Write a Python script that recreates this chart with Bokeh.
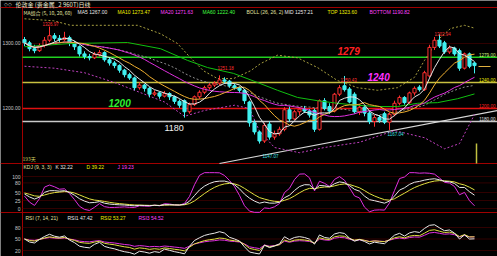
import numpy as np
from bokeh.plotting import figure
from bokeh.models import Range1d
from bokeh.embed import file_html
from bokeh.resources import INLINE
from bokeh.core.properties import value

# ---------------- data ----------------
opens = [1306,1301,1292,1289,1297,1305,1312,1308,1306,1309,
         1301,1295,1284,1280,1278,1283,1286,1275,1270,1266,
         1259,1252,1247,1232,1236,1231,1222,1224,1219,1223,
         1218,1211,1212,1195,1206,1218,1225,1232,1236,1239,
         1244,1242,1235,1232,1228,1210,1178,1164,1150,1176,
         1156,1161,1168,1198,1184,1195,1199,1196,1197,1168,
         1212,1203,1196,1222,1235,1230,1222,1195,1202,1193,
         1180,1186,1192,1179,1191,1208,1217,1209,1224,1233,
         1229,1250,1294,1305,1301,1287,1293,1289,1262,1284,1270]
highs = [1310,1304,1298,1300,1310,1326,1316,1313,1318,1312,
         1304,1297,1288,1284,1287,1290,1288,1279,1273,1268,
         1261,1255,1249,1240,1238,1233,1228,1226,1227,1225,
         1220,1214,1214,1209,1220,1228,1235,1239,1242,1251,
         1248,1244,1238,1234,1230,1212,1182,1166,1178,1180,
         1166,1172,1202,1203,1198,1202,1204,1199,1200,1214,
         1216,1208,1224,1236,1250,1233,1225,1207,1205,1196,
         1190,1190,1195,1194,1212,1220,1219,1226,1234,1236,
         1258,1298,1310,1314,1304,1297,1295,1292,1286,1286,1272]
lows = [1296,1288,1285,1287,1294,1302,1303,1302,1304,1296,
        1290,1280,1276,1274,1276,1280,1272,1266,1262,1255,
        1248,1244,1228,1229,1226,1217,1219,1215,1217,1213,
        1207,1201,1186,1192,1204,1215,1222,1229,1233,1236,
        1238,1232,1229,1224,1207,1172,1160,1146,1147,1152,
        1152,1158,1165,1180,1182,1190,1193,1186,1164,1166,
        1197,1192,1194,1219,1226,1208,1192,1190,1188,1176,
        1172,1178,1176,1167,1188,1205,1206,1207,1220,1226,
        1227,1248,1290,1293,1284,1284,1281,1258,1260,1262,1254]
closes = [1301,1292,1289,1297,1305,1312,1308,1306,1309,1301,
          1295,1284,1280,1278,1283,1286,1275,1270,1266,1259,
          1252,1247,1232,1236,1231,1222,1224,1219,1223,1218,
          1211,1205,1195,1206,1218,1225,1232,1236,1239,1244,
          1242,1235,1232,1228,1212,1178,1164,1150,1174,1156,
          1161,1168,1198,1184,1195,1199,1196,1190,1168,1212,
          1200,1196,1222,1232,1229,1210,1195,1202,1193,1180,
          1186,1182,1179,1191,1208,1217,1209,1224,1231,1229,
          1255,1294,1305,1296,1287,1293,1284,1262,1284,1265,1266]

# MA60 and Bollinger bands (candle index, price)
ma60_idx = [0, 9.2, 20.6, 27.2, 32.6, 36.6, 41.8, 46.6, 50.6, 54.6, 58.6, 62.6, 66.6, 70.6, 74.6, 78.6, 82.6, 86.6, 90]
ma60_val = [1295, 1300, 1301.5, 1292, 1274, 1263, 1254, 1240, 1228, 1217, 1212, 1208, 1205, 1203, 1203, 1208, 1209, 1215, 1222.4]
top_idx = [0, 5.8, 9.2, 14.6, 22.6, 27.2, 30.6, 33.2, 35.8, 38.6, 41.8, 45.2, 47.2, 50.6, 54.6, 58.6, 62.6, 66.6, 70.6, 74.6, 78, 80, 82.6, 85.2, 88, 90]
top_val = [1338, 1335, 1328, 1328, 1328, 1315, 1300, 1278, 1258, 1246, 1246, 1258, 1269, 1282, 1278, 1263, 1243, 1232, 1228, 1232, 1248, 1274, 1305, 1323, 1328, 1323.6]
bot_idx = [0, 6, 12, 18, 24, 28, 32, 36, 42, 45, 47, 50, 55, 60, 67, 74, 80, 84, 87, 90]
bot_val = [1265, 1262, 1255, 1240, 1222, 1210, 1188, 1197, 1205, 1200, 1165, 1140, 1132, 1140, 1148, 1166, 1155, 1138, 1146, 1190.8]

levels = [1279, 1240, 1200, 1180]
level_names = ["1279", "1240", "1200", "1180"]
level_right = ["1279.00", "1240.00", "1200.00", "1180.00"]
trend_idx = [39, 94.6]
trend_val = [1115.4, 1196.9]

price_ticks = [1300, 1200]
kd_ticks = [100, 80, 50, 25, 0]
rsi_ticks = [80, 50, 20]

# ---------------- derived indicators ----------------
N = len(closes)
idx = np.arange(N)
o = np.array(opens, float); h = np.array(highs, float)
l = np.array(lows, float); c = np.array(closes, float)

def ma(a, n):
    return np.array([a[max(0, i - n + 1):i + 1].mean() for i in range(len(a))])

ma5, ma10, ma20, mid = ma(c, 5), ma(c, 10), ma(c, 20), ma(c, 26)

K = []; D = []; J = []
kp, dp = 50.0, 50.0
for i in range(N):
    lo = l[max(0, i - 8):i + 1].min(); hi = h[max(0, i - 8):i + 1].max()
    rsv = (c[i] - lo) / (hi - lo) * 100 if hi > lo else 50
    kp = (2 * kp + rsv) / 3; dp = (2 * dp + kp) / 3
    K.append(kp); D.append(dp); J.append(3 * kp - 2 * dp)
J = np.clip(J, -12, 112)

def rsi(n):
    su, sa = 4.0, 8.0
    out = [50.0]
    for i in range(1, N):
        d = c[i] - c[i - 1]
        su = (max(d, 0) + (n - 1) * su) / n
        sa = (abs(d) + (n - 1) * sa) / n
        out.append(su / sa * 100 if sa > 0 else 50)
    return np.array(out)

r1, r2, r3 = rsi(7), rsi(14), rsi(21)

# ---------------- figure ----------------
p = figure(width=497, height=256, min_border=0, toolbar_location=None, output_backend="svg",
           x_range=Range1d(-4.8, 94.6), y_range=Range1d(972.3, 1366.15),
           x_axis_type=None, y_axis_type=None, background_fill_color="black",
           border_fill_color="black", outline_line_color=None)
p.grid.visible = False
p.extra_y_ranges = {"kd": Range1d(-150, 650), "rsi": Range1d(4.35, 672.2), "py": Range1d(256, 0)}
p.extra_x_ranges = {"px": Range1d(0, 497)}

FONT = "Liberation Sans"

def txt(x, y, s, color, size="5px", align="left", baseline="middle", style="normal",
        font=FONT, xr="px", yr="py"):
    p.text(x=[x], y=[y], text=[s], text_color=color, text_font=value(font),
           text_font_size=size, text_align=align, text_baseline=baseline,
           text_font_style=style, x_range_name=xr, y_range_name=yr)

# panel frame lines
p.segment(x0=[0, 0, 0], y0=[7, 163, 212], x1=[497, 497, 497], y1=[7, 163, 212],
          line_color="#a00000", line_width=1, x_range_name="px", y_range_name="py")
p.segment(x0=[22], y0=[7], x1=[22], y1=[256], line_color="#a00000", line_width=1,
          x_range_name="px", y_range_name="py")

# grid lines
p.segment(x0=[22] * len(price_ticks), x1=[497] * len(price_ticks), y0=price_ticks, y1=price_ticks,
          line_color="#600000", line_dash="1 1", x_range_name="px")
p.segment(x0=[22] * len(kd_ticks), x1=[497] * len(kd_ticks), y0=kd_ticks, y1=kd_ticks,
          line_color="#600000", line_dash="1 1", x_range_name="px", y_range_name="kd")
p.segment(x0=[22] * len(rsi_ticks), x1=[497] * len(rsi_ticks), y0=rsi_ticks, y1=rsi_ticks,
          line_color="#600000", line_dash="1 1", x_range_name="px", y_range_name="rsi")

# horizontal drawn levels
level_colors = ["#20d020", "#c8c040", "#e01010", "#c8c8c8"]
p.segment(x0=[22] * 4, x1=[497] * 4, y0=levels, y1=levels, line_color=level_colors,
          line_width=1.5, x_range_name="px")
# trend line
p.line(trend_idx, trend_val, line_color="#d8d8d8", line_width=1.2)

# bollinger bands
p.line(top_idx, top_val, line_color="#a8a040", line_dash="2 2", line_width=1)
p.line(bot_idx, bot_val, line_color="#c040c0", line_dash="2 2", line_width=1)
p.line(idx, mid, line_color="#909090", line_dash="2 2", line_width=1)

# candles
up = c >= o
col = np.where(up, "#ff3030", "#40f0f0")
p.segment(x0=idx, y0=l, x1=idx, y1=h, line_color=col, line_width=1)
p.vbar(x=idx, width=0.62, top=np.maximum(o, c), bottom=np.minimum(o, c),
       fill_color=np.where(up, "black", "#40f0f0"), line_color=col, line_width=1)

# moving averages
p.line(ma60_idx, ma60_val, line_color="#10c010", line_width=1)
p.line(idx, ma20, line_color="#e030e0", line_width=1)
p.line(idx, ma10, line_color="#f0b030", line_width=1)
p.line(idx, ma5, line_color="#e8e8e8", line_width=1)

# KD panel
p.line(idx, J, line_color="#e030e0", line_width=1, y_range_name="kd")
p.line(idx, D, line_color="#e0e040", line_width=1, y_range_name="kd")
p.line(idx, K, line_color="#e8e8e8", line_width=1, y_range_name="kd")
# RSI panel
p.line(idx, r3, line_color="#e030e0", line_width=1, y_range_name="rsi")
p.line(idx, r2, line_color="#e0e040", line_width=1, y_range_name="rsi")
p.line(idx, r1, line_color="#e8e8e8", line_width=1, y_range_name="rsi")

# cursor marks
p.segment(x0=[476], y0=[143], x1=[476], y1=[163], line_color="#c0c040", line_width=1.5,
          x_range_name="px", y_range_name="py")
p.segment(x0=[478], y0=[66], x1=[490], y1=[66], line_color="#e0b040", line_width=1,
          x_range_name="px", y_range_name="py")

# ---------------- texts ----------------
txt(3, 3.5, "◇◇", "#c0c0c0", size="5px")
txt(15, 3.5, "伦敦金 (贵金属_2 960T)日线", "#e8e8d0", size="6px", font="Noto Sans CJK SC")

row2 = [(23, "MA组合 (5, 10, 20, 60)", "#e0e0a0"), (77, "MA5 1267.00", "#e8e8e8"),
        (117, "MA10 1273.47", "#f0f000"), (160, "MA20 1271.63", "#ff40ff"),
        (202, "MA60 1222.40", "#40ff40"), (246, "BOLL (26, 26, 2)", "#e0e0a0"),
        (284, "MID 1257.21", "#e8e8e8"), (327, "TOP 1323.60", "#f0f000"),
        (369, "BOTTOM 1190.82", "#ff40ff")]
for x, s, colr in row2:
    txt(x, 11.5, s, colr, font="Noto Sans CJK SC" if "组" in s else FONT)

txt(22, 158, "193天", "#d0d060", font="Noto Sans CJK SC")
for x, s, colr in [(23, "KDJ (9, 3, 3)", "#e0e0a0"), (55, "K  32.22", "#e8e8e8"),
                   (86, "D  39.22", "#f0f000"), (117, "J  19.23", "#ff40ff")]:
    txt(x, 166.5, s, colr)
for x, s, colr in [(25, "RSI (7, 14, 21)", "#e0e0a0"), (67, "RSI1  47.42", "#e8e8e8"),
                   (100, "RSI2  53.27", "#f0f000"), (138, "RSI3  54.52", "#ff40ff")]:
    txt(x, 217, s, colr)

# axis tick labels
for t in price_ticks:
    txt(20, t, "%.2f" % t, "#c8c8c8", align="right", yr="default")
for t in kd_ticks:
    txt(20, t, str(t), "#c8c8c8", align="right", yr="kd")
for t in rsi_ticks:
    txt(20, t, str(t), "#c8c8c8", align="right", yr="rsi")

# level labels
right_colors = ["#d0f080", "#f0f000", "#ff2020", "#e0e0e0"]
for lv, s, colr in zip(levels, level_right, right_colors):
    txt(495, lv, s, colr, size="4.6px", align="right", baseline="bottom", yr="default")
txt(337, 50, level_names[0], "#ff2020", size="10px", style="bold italic")
txt(367, 76, level_names[1], "#ff30ff", size="10px", style="bold italic")
txt(108, 102, level_names[2], "#30f030", size="10px", style="bold italic")
txt(164, 127, level_names[3], "#f0f0f0", size="9px")

# extreme labels
for x, y, s, colr in [(42, 23, "1326.97", "#ff3030"), (217, 67, "1251.18", "#ff3030"),
                      (340, 79, "1250.43", "#ff3030"), (434, 33, "1302.94", "#ff3030"),
                      (262, 155, "1147.07", "#40e0e0"), (387, 133, "1167.04", "#40e0e0")]:
    txt(x, y, s, colr, size="4.5px")

open("out.html", "w").write(file_html(p, INLINE))
